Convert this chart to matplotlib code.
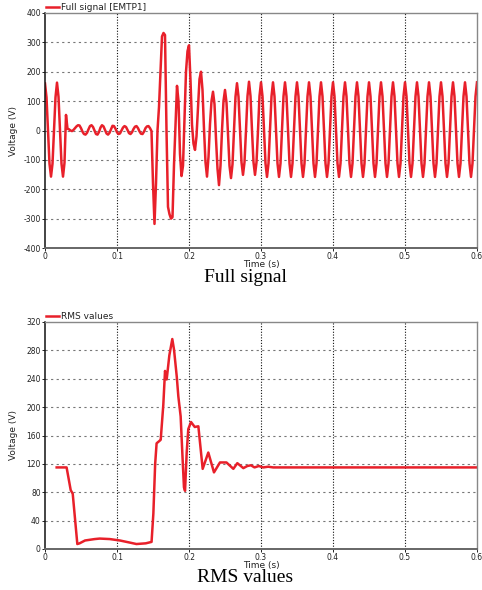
import numpy as np
import matplotlib
matplotlib.use("Agg")
import matplotlib.pyplot as plt

plt.rcParams['axes.unicode_minus'] = False
plt.rcParams['font.family'] = ['DejaVu Sans']

# ---- data ----
# Full signal sampled every 1/480 s (8 samples per 60 Hz cycle)
full_dt = 1.0 / 480.0
full_v = [
    160, 113, 0, -113, -157, -113, 0, 113,
    163, 115, 0, -113, -157, -110, 53, 6,
    4, 0, -2, 2, 8, 14, 18, 17,
    8, -4, -12, -14, -8, 4, 15, 18,
    12, 0, -12, -14, -5, 10, 18, 14,
    2, -10, -14, -8, 4, 16, 15, 6,
    -6, -12, -10, 0, 10, 15, 12, 2,
    -9, -12, -6, 5, 13, 15, 8, -3,
    -11, -12, -4, 8, 14, 15, 8, -2,
    -180, -318, -180, 0, 80, 200, 320, 332,
    325, 0, -260, -285, -300, -295, -117, 20,
    152, 100, -80, -155, -120, 40, 200, 270,
    290, 170, 20, -45, -66, -20, 80, 175,
    200, 138, 5, -108, -157, -90, 22, 100,
    132, 90, -28, -130, -186, -120, 0, 100,
    138, 95, -15, -120, -162, -115, 0, 115,
    161, 115, 0, -108, -151, -108, 0, 117,
    166, 117, 0, -108, -151, -108, 0, 117,
    164, 116, 0, -112, -158, -112, 0, 116,
    164, 116, 0, -112, -158, -112, 0, 116,
    164, 116, 0, -112, -158, -112, 0, 116,
    164, 116, 0, -112, -158, -112, 0, 116,
    164, 116, 0, -112, -158, -112, 0, 116,
    164, 116, 0, -112, -158, -112, 0, 116,
    164, 116, 0, -112, -158, -112, 0, 116,
    164, 116, 0, -112, -158, -112, 0, 116,
    164, 116, 0, -112, -158, -112, 0, 116,
    164, 116, 0, -112, -158, -112, 0, 116,
    164, 116, 0, -112, -158, -112, 0, 116,
    164, 116, 0, -112, -158, -112, 0, 116,
    164, 116, 0, -112, -158, -112, 0, 116,
    164, 116, 0, -112, -158, -112, 0, 116,
    164, 116, 0, -112, -158, -112, 0, 116,
    164, 116, 0, -112, -158, -112, 0, 116,
    164, 116, 0, -112, -158, -112, 0, 116,
    164, 116, 0, -112, -158, -112, 0, 116,
    164,
]
full_t = np.arange(len(full_v)) * full_dt

rms_t = [0.0162, 0.030, 0.0357, 0.0385, 0.0449, 0.048, 0.0556, 0.069, 0.076,
         0.090, 0.104, 0.118, 0.127, 0.140, 0.148, 0.1505, 0.153, 0.155,
         0.1597, 0.1607, 0.1643, 0.1667, 0.169, 0.1727, 0.1768, 0.1792,
         0.183, 0.1852, 0.1884, 0.1907, 0.193, 0.1945, 0.1968, 0.199, 0.2028,
         0.208, 0.213, 0.219, 0.2268, 0.2347, 0.243, 0.252, 0.2616, 0.2671,
         0.2755, 0.281, 0.286, 0.291, 0.297, 0.303, 0.310, 0.317, 0.600]
rms_v = [115, 115, 83, 78, 7, 8, 12, 14, 14.7,
         14, 12, 9, 7, 8, 10, 50, 120, 149,
         153, 154, 203, 251, 239, 273, 296, 281,
         243, 215, 187, 136, 87, 82, 136, 169, 179,
         172, 173, 113, 136, 108, 122, 122, 113, 121,
         114, 117, 118, 115, 117, 115, 116, 115, 115]

top_yticks = [-400, -300, -200, -100, 0, 100, 200, 300, 400]
bot_yticks = [0, 40, 80, 120, 160, 200, 240, 280, 320]
xticks = [0, 0.1, 0.2, 0.3, 0.4, 0.5, 0.6]
xtick_labels = ["0", "0.1", "0.2", "0.3", "0.4", "0.5", "0.6"]

RED = '#e8202a'
W, H = 482, 590

fig = plt.figure(figsize=(W / 100, H / 100), dpi=100)

def make_ax(top_px, bottom_px):
    left, right = 45, 477
    return fig.add_axes([left / W, 1 - bottom_px / H, (right - left) / W,
                         (bottom_px - top_px) / H])

def style(ax, yticks):
    ax.set_xlim(0, 0.6)
    ax.set_ylim(yticks[0], yticks[-1])
    ax.set_xticks(xticks)
    ax.set_xticklabels(xtick_labels)
    ax.set_yticks(yticks)
    ax.tick_params(labelsize=5.5, colors='#222', length=2, width=0.7, pad=1)
    for yv in yticks[1:-1]:
        ax.axhline(yv, color='#777777', lw=0.8, ls=(0, (2, 3)), zorder=0)
    for xv in xticks[1:-1]:
        ax.axvline(xv, color='#111111', lw=0.8, ls=(0, (1, 1.5)), zorder=0)
    ax.spines['left'].set_color('#111111')
    ax.spines['left'].set_linewidth(1.1)
    ax.spines['bottom'].set_color('#666666')
    ax.spines['bottom'].set_linewidth(1.4)
    ax.spines['top'].set_color('#888888')
    ax.spines['right'].set_color('#888888')
    ax.spines['top'].set_linewidth(1.0)
    ax.spines['right'].set_linewidth(1.0)
    ax.set_xlabel("Time (s)", fontsize=6.5, color='#222')
    ax.set_ylabel("Voltage (V)", fontsize=6.5, color='#222')
    ax.yaxis.set_label_coords(-0.0625, 0.5)
    leg = ax.legend(loc='lower left', bbox_to_anchor=(0.0, 1.0), frameon=False,
                    fontsize=6.5, handlelength=1.45, handletextpad=0.25,
                    borderpad=0.1, borderaxespad=0.0)
    for t in leg.get_texts():
        t.set_color('#222')

ax1 = make_ax(13, 248)
ax1.plot(full_t, full_v, color=RED, lw=1.8, label="Full signal [EMTP1]",
         solid_joinstyle='round')
style(ax1, top_yticks)
ax1.xaxis.set_label_coords(0.5, -0.05)

ax2 = make_ax(322, 549)
ax2.plot(rms_t, rms_v, color=RED, lw=1.8, label="RMS values",
         solid_joinstyle='round')
style(ax2, bot_yticks)
ax2.xaxis.set_label_coords(0.5, -0.052)

fig.text(245 / W, 1 - 277 / H, "Full signal", ha='center', va='center',
         fontsize=14, family='Liberation Serif', color='black')
fig.text(245 / W, 1 - 578 / H, "RMS values", ha='center', va='center',
         fontsize=14, family='Liberation Serif', color='black')

fig.savefig("out.png", dpi=100)
